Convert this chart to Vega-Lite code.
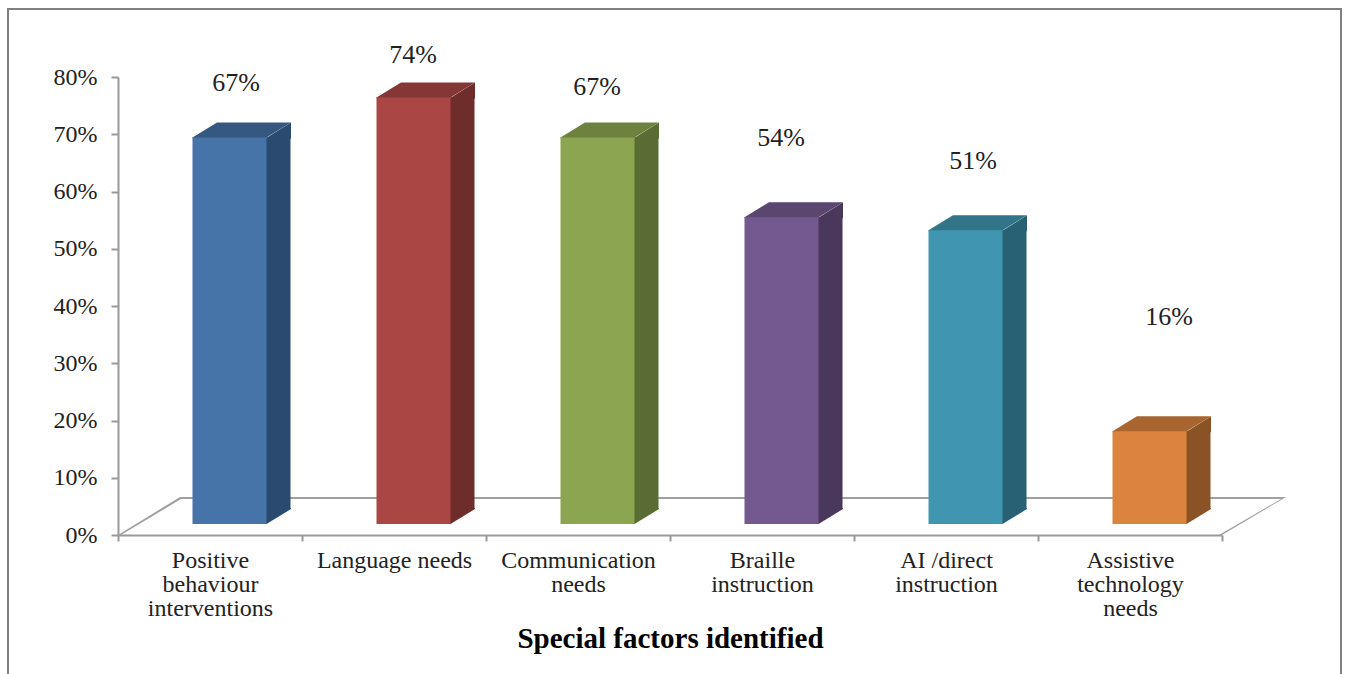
{
"$schema":"https://vega.github.io/schema/vega-lite/v6.json",
"width":1104,"height":458,
"autosize":"none",
"padding":{"left":118,"top":77,"right":125,"bottom":139},
"background":"white",
"config":{"view":{"stroke":null}},
"datasets":{"bars":[
{"category":"Positive behaviour interventions","value":67.5,"label":"67%"},
{"category":"Language needs","value":74.5,"label":"74%"},
{"category":"Communication needs","value":67.5,"label":"67%"},
{"category":"Braille instruction","value":53.6,"label":"54%"},
{"category":"AI /direct instruction","value":51.3,"label":"51%"},
{"category":"Assistive technology needs","value":16.2,"label":"16%"}
]},
"resolve":{"scale":{"fill":"independent"}},
"encoding":{
"x":{"field":"category","type":"nominal","title":"Special factors identified",
 "scale":{"domain":["Positive behaviour interventions","Language needs","Communication needs","Braille instruction","AI /direct instruction","Assistive technology needs"],"paddingInner":0,"paddingOuter":0},
 "axis":{"labelAngle":0,"tickBand":"extent","domainColor":"#999999","domainWidth":2,"tickColor":"#999999","tickWidth":2,"tickSize":6,
  "labelFont":"Liberation Serif","labelFontSize":24,"labelColor":"#222222","labelLineHeight":24,"labelPadding":7,"labelLimit":400,"labelBaseline":"top",
  "labelExpr":"datum.label=='Positive behaviour interventions'?['Positive','behaviour','interventions']:datum.label=='Communication needs'?['Communication','needs']:datum.label=='Braille instruction'?['Braille','instruction']:datum.label=='AI /direct instruction'?['AI /direct','instruction']:datum.label=='Assistive technology needs'?['Assistive','technology','needs']:datum.label",
  "titleFont":"Liberation Serif","titleFontSize":29,"titleFontWeight":"bold","titleColor":"#000000","titlePadding":4}},
"y":{"field":"value","type":"quantitative","title":null,"scale":{"domain":[0,80],"nice":false},
 "axis":{"values":[0,10,20,30,40,50,60,70,80],"labelExpr":"datum.value+'%'","grid":false,"domainColor":"#999999","domainWidth":2,"tickColor":"#999999","tickWidth":2,"tickSize":7,
  "labelFont":"Liberation Serif","labelFontSize":24,"labelColor":"#222222","labelPadding":14}}
},
"layer":[
{"data":{"name":"bars"},"transform":[{"filter":"datum.label=='54%'"}],
 "mark":{"type":"point","filled":true,"fill":"#808080","opacity":1,"size":4,"stroke":null,"clip":false,"xOffset":-92,
  "shape":"M-663,368 L-663,-298 L672,-298 L672,368 L670,368 L670,-296 L-661,-296 L-661,368 Z"},
 "encoding":{"y":{"datum":40}}},
{"data":{"name":"bars"},"transform":[{"filter":"datum.label=='54%'"}],
 "mark":{"type":"point","filled":true,"fill":"#a0a0a0","opacity":1,"size":4,"stroke":null,"clip":false,"xOffset":-92,
  "shape":"M-552,0 L-490,-38 L616,-38 L552,0 L549,0 L611,-36 L-489,-36 L-549,0 Z"},
 "encoding":{"y":{"datum":0}}},
{"data":{"name":"bars"},
 "mark":{"type":"bar","size":25.5,"xOffset":67.75,"yOffset":-11,"y2Offset":-26},
 "encoding":{"y2":{"datum":0},"fill":{"field":"category","type":"nominal","legend":null,"scale":{"domain":["Positive behaviour interventions","Language needs","Communication needs","Braille instruction","AI /direct instruction","Assistive technology needs"],"range":["#2B4A70","#6E2C2A","#596C34","#49385C","#276173","#8A5326"]}}}},
{"data":{"name":"bars"},
 "mark":{"type":"point","filled":true,"opacity":1,"size":4,"stroke":null,"xOffset":19.5,"yOffset":-11,"shape":"M36,1 L61.5,-15 L61.5,1 Z"},
 "encoding":{"fill":{"field":"category","type":"nominal","legend":null,"scale":{"domain":["Positive behaviour interventions","Language needs","Communication needs","Braille instruction","AI /direct instruction","Assistive technology needs"],"range":["#2B4A70","#6E2C2A","#596C34","#49385C","#276173","#8A5326"]}}}},
{"data":{"name":"bars"},
 "mark":{"type":"point","filled":true,"opacity":1,"size":4,"stroke":null,"xOffset":19.5,"yOffset":-11,"shape":"M36,0 L37,0 L61.5,-15 L61.5,-16 L36,-16 Z"},
 "encoding":{"y":{"datum":0},"fill":{"field":"category","type":"nominal","legend":null,"scale":{"domain":["Positive behaviour interventions","Language needs","Communication needs","Braille instruction","AI /direct instruction","Assistive technology needs"],"range":["#2B4A70","#6E2C2A","#596C34","#49385C","#276173","#8A5326"]}}}},
{"data":{"name":"bars"},
 "mark":{"type":"point","filled":true,"opacity":1,"size":4,"stroke":null,"xOffset":19.5,"yOffset":-11,"shape":"M-37,1 L37,1 L37,0 L61.5,-15 L-12.5,-15 L-37,0 Z"},
 "encoding":{"fill":{"field":"category","type":"nominal","legend":null,"scale":{"domain":["Positive behaviour interventions","Language needs","Communication needs","Braille instruction","AI /direct instruction","Assistive technology needs"],"range":["#345880","#853735","#6D823F","#5A466F","#327488","#A86530"]}}}},
{"data":{"name":"bars"},
 "mark":{"type":"bar","size":74,"xOffset":19.5,"yOffset":-11,"y2Offset":-11},
 "encoding":{"y2":{"datum":0},"fill":{"field":"category","type":"nominal","legend":null,"scale":{"domain":["Positive behaviour interventions","Language needs","Communication needs","Braille instruction","AI /direct instruction","Assistive technology needs"],"range":["#4673A8","#AA4643","#8BA550","#74598F","#4096B0","#DB843D"]}}}},
{"data":{"name":"bars"},
 "mark":{"type":"text","font":"Liberation Serif","fontSize":26,"color":"#222222","align":"center","baseline":"middle",
  "dx":{"expr":"datum.category=='Positive behaviour interventions'?26:datum.category=='AI /direct instruction'?27:datum.category=='Assistive technology needs'?39:19"},
  "dy":{"expr":"datum.category=='Positive behaviour interventions'?-65.6:datum.category=='Language needs'?-53.5:datum.category=='Communication needs'?-61.6:datum.category=='Braille instruction'?-90:datum.category=='AI /direct instruction'?-80:-125"}},
 "encoding":{"text":{"field":"label"}}}
]
}
